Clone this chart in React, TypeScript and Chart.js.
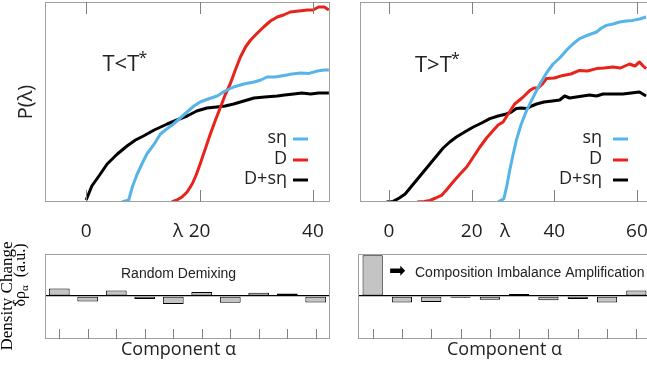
import React, { useEffect, useRef } from "react";
import { Chart, registerables } from "chart.js";

Chart.register(...registerables);

const FONT = "'Open Sans', sans-serif";
Chart.defaults.font.family = FONT;
Chart.defaults.color = "#222";

// ---------- Top-left panel: T < T* ----------
const lamLowBlack = [0, 1, 2.5, 3.7, 5.5, 7.2, 8.7, 10.1, 12, 14.3, 16, 17.8, 19.5, 21.3, 23, 24.5, 26, 27.8, 29.6, 31.5, 33.7, 35, 36.6, 38, 39.6, 41, 42.8];
const pLowBlack = [0.01, 0.08, 0.14, 0.19, 0.24, 0.28, 0.31, 0.33, 0.36, 0.39, 0.41, 0.43, 0.455, 0.47, 0.475, 0.48, 0.49, 0.505, 0.52, 0.525, 0.53, 0.535, 0.54, 0.545, 0.54, 0.545, 0.545];
const lamLowBlue = [6.3, 7.5, 8.2, 9, 10, 10.7, 12, 13.1, 14.2, 15.4, 16.6, 17.8, 19, 20.1, 21.5, 23.1, 24.5, 26, 27.8, 29.6, 30.8, 31.9, 33.3, 34.9, 36.3, 37.8, 39.3, 40.8, 42, 42.8];
const pLowBlue = [0, 0.01, 0.08, 0.14, 0.2, 0.24, 0.29, 0.34, 0.365, 0.39, 0.42, 0.45, 0.48, 0.5, 0.515, 0.53, 0.555, 0.575, 0.59, 0.6, 0.61, 0.625, 0.625, 0.633, 0.64, 0.645, 0.643, 0.655, 0.66, 0.66];
const lamLowRed = [15.1, 16, 16.9, 17.8, 18.7, 19.4, 20.1, 21, 21.9, 22.8, 23.7, 24.5, 25.4, 26.3, 27.2, 28.1, 29, 30.2, 31.3, 32.5, 33.7, 34.8, 36, 37.5, 39, 40, 41, 42, 42.8];
const pLowRed = [0, 0.01, 0.025, 0.05, 0.09, 0.135, 0.19, 0.265, 0.34, 0.41, 0.475, 0.535, 0.59, 0.66, 0.725, 0.775, 0.81, 0.845, 0.875, 0.905, 0.925, 0.935, 0.95, 0.955, 0.96, 0.96, 0.975, 0.975, 0.96];
const lamTicksLow = [0, 20, 40];

// ---------- Top-right panel: T > T* ----------
const lamHighBlack = [-0.6, 1, 2.5, 3.9, 5.3, 6.7, 8.3, 9.9, 11.5, 13.1, 14.7, 16.3, 18.3, 20.4, 22.4, 24.4, 26.4, 28.4, 29.6, 30.8, 32, 33.3, 34.5, 35.7, 37.5, 39.5, 41.3, 42.5, 43.7, 45.3, 46.9, 48.5, 50.2, 51.8, 54, 56.6, 58.6, 60.6, 62.2];
const pHighBlack = [0, 0.003, 0.02, 0.04, 0.075, 0.11, 0.15, 0.19, 0.23, 0.27, 0.3, 0.325, 0.35, 0.375, 0.395, 0.417, 0.43, 0.44, 0.45, 0.467, 0.47, 0.467, 0.48, 0.49, 0.5, 0.505, 0.51, 0.53, 0.52, 0.525, 0.53, 0.535, 0.53, 0.54, 0.54, 0.54, 0.545, 0.55, 0.53];
const lamHighRed = [6.8, 8.5, 9.9, 11.3, 12.7, 14.1, 15.5, 17.2, 18.8, 20.4, 22, 23.6, 25.2, 26.4, 27.6, 29, 30.4, 32.2, 34.1, 35.1, 36.1, 37.1, 38.1, 40, 42.1, 44, 46.1, 48, 50.2, 52, 54.2, 56, 58.2, 59.5, 60.6, 61.5, 62.2];
const pHighRed = [0, 0.003, 0.008, 0.02, 0.033, 0.065, 0.1, 0.14, 0.175, 0.225, 0.275, 0.32, 0.358, 0.385, 0.4, 0.445, 0.49, 0.52, 0.558, 0.57, 0.57, 0.59, 0.617, 0.62, 0.633, 0.64, 0.658, 0.655, 0.667, 0.67, 0.675, 0.67, 0.69, 0.68, 0.7, 0.68, 0.667];
const lamHighBlue = [26.4, 27.8, 28.5, 29.2, 30, 30.8, 32, 33.3, 34.9, 36.5, 38.1, 39.7, 41.3, 42.9, 44.5, 46.1, 48.2, 50.2, 51.4, 52.6, 54.2, 55.8, 57.4, 59, 60.6, 62.2];
const pHighBlue = [0, 0.017, 0.08, 0.158, 0.235, 0.308, 0.39, 0.458, 0.525, 0.59, 0.645, 0.69, 0.72, 0.758, 0.79, 0.817, 0.835, 0.85, 0.87, 0.883, 0.89, 0.9, 0.905, 0.908, 0.915, 0.925];
const lamTicksHigh = [0, 20, 40, 60];

const seriesLabels = ["sη", "D", "D+sη"];

// ---------- Bottom panels ----------
const components = ["1", "2", "3", "4", "5", "6", "7", "8", "9", "10"];
const demixing = [0.18, -0.13, 0.135, -0.07, -0.19, 0.095, -0.16, 0.08, 0.063, -0.15];
const amplification = [0.97, -0.15, -0.14, -0.04, -0.085, 0.05, -0.1, -0.07, -0.155, 0.135];

const BLUE = "#56b4e9";
const RED = "#e8231a";
const BLACK = "#000000";
const FRAME = "#a0a0a0";
const TICK = "#808080";

const pts = (xs: number[], ys: number[]) => xs.map((x, i) => ({ x, y: ys[i] }));

const framePlugin = {
  id: "frame",
  afterDraw(chart: any, _args: any, opts: any) {
    const { ctx, chartArea: a, scales } = chart;
    ctx.save();
    ctx.strokeStyle = FRAME;
    ctx.lineWidth = 1;
    ctx.strokeRect(a.left + 0.5, a.top + 0.5, a.right - a.left - 1, a.bottom - a.top - 1);
    ctx.strokeStyle = TICK;
    const x = scales.x;
    x.ticks.forEach((_t: any, i: number) => {
      const px = Math.round(x.getPixelForTick(i)) + 0.5;
      ctx.beginPath();
      ctx.moveTo(px, a.bottom);
      ctx.lineTo(px, a.bottom - opts.len);
      if (opts.top) {
        ctx.moveTo(px, a.top);
        ctx.lineTo(px, a.top + opts.len);
      }
      ctx.stroke();
    });
    ctx.restore();
  },
};

const legendPlugin = {
  id: "lineLegend",
  afterDraw(chart: any, _args: any, opts: any) {
    if (!opts || !opts.show) return;
    const { ctx, chartArea: a } = chart;
    ctx.save();
    ctx.font = `18px ${FONT}`;
    ctx.textAlign = "right";
    ctx.textBaseline = "middle";
    chart.data.datasets.forEach((ds: any, i: number) => {
      const y = opts.rows[i];
      ctx.fillStyle = "#222";
      ctx.fillText(ds.label, a.left + opts.textRight, y - 1);
      ctx.strokeStyle = ds.borderColor;
      ctx.lineWidth = 3;
      ctx.beginPath();
      ctx.moveTo(a.left + opts.lineFrom, y);
      ctx.lineTo(a.left + opts.lineTo, y);
      ctx.stroke();
    });
    ctx.restore();
  },
};

const notePlugin = {
  id: "notes",
  afterDraw(chart: any, _args: any, opts: any) {
    if (!opts || !opts.items) return;
    const { ctx, chartArea: a } = chart;
    ctx.save();
    ctx.textBaseline = "alphabetic";
    ctx.textAlign = "left";
    opts.items.forEach((it: any) => {
      ctx.font = it.font;
      ctx.fillStyle = it.color || "#222";
      ctx.fillText(it.text, a.left + it.dx, it.y);
    });
    ctx.restore();
  },
};

const densityLabelPlugin = {
  id: "densityLabel",
  afterDraw(chart: any, _args: any, opts: any) {
    if (!opts || !opts.show) return;
    const { ctx } = chart;
    ctx.save();
    ctx.fillStyle = "#000";
    ctx.textBaseline = "alphabetic";
    // line 1
    ctx.save();
    ctx.translate(opts.x1, opts.c1);
    ctx.rotate(-Math.PI / 2);
    ctx.font = `17px 'Liberation Serif', serif`;
    ctx.textAlign = "center";
    ctx.fillText("Density Change", 0, 0);
    ctx.restore();
    // line 2
    ctx.save();
    ctx.translate(opts.x2, opts.c2);
    ctx.rotate(-Math.PI / 2);
    ctx.textAlign = "left";
    const big = `16px 'Liberation Serif', serif`;
    const small = `11px 'Liberation Serif', serif`;
    ctx.font = big;
    const w1 = ctx.measureText("δρ").width;
    const w3 = ctx.measureText("  (a.u.)").width;
    ctx.font = small;
    const w2 = ctx.measureText("α").width;
    const total = w1 + w2 + w3;
    let xx = -total / 2;
    ctx.font = big;
    ctx.fillText("δρ", xx, 0);
    xx += w1;
    ctx.font = small;
    ctx.fillText("α", xx, 3);
    xx += w2;
    ctx.font = big;
    ctx.fillText("  (a.u.)", xx, 0);
    ctx.restore();
    ctx.restore();
  },
};

function lineConfig(opts: {
  sets: { label: string; xs: number[]; ys: number[]; color: string }[];
  min: number;
  max: number;
  ticks: number[];
  showY: boolean;
  yWidth: number;
  title: string;
  legend: any;
  notes: any[];
}) {
  return {
    type: "line",
    data: {
      datasets: opts.sets.map((s) => ({
        label: s.label,
        data: pts(s.xs, s.ys),
        borderColor: s.color,
        backgroundColor: s.color,
        borderWidth: 3,
        pointRadius: 0,
        tension: 0,
        fill: false,
        borderJoinStyle: "round",
      })),
    },
    options: {
      animation: false,
      responsive: false,
      maintainAspectRatio: false,
      layout: { padding: { top: 2, left: 0, right: 0, bottom: 0 } },
      plugins: {
        legend: { display: false },
        tooltip: { enabled: false },
        frame: { len: 12, top: true },
        lineLegend: opts.legend,
        notes: { items: opts.notes },
      },
      scales: {
        x: {
          type: "linear",
          min: opts.min,
          max: opts.max,
          grid: { display: false, drawTicks: false },
          border: { display: false },
          afterBuildTicks: (s: any) => {
            s.ticks = opts.ticks.map((v) => ({ value: v }));
          },
          ticks: { autoSkip: false, maxRotation: 0, font: { size: 19 }, color: "#222", padding: 18 },
          title: { display: true, text: opts.title, font: { size: 19 }, color: "#222", padding: { top: 0, bottom: 7 } },
          afterFit: (s: any) => {
            s.height = 48;
            s.paddingLeft = 0;
            s.paddingRight = 0;
          },
        },
        y: {
          min: 0,
          max: 1,
          grid: { display: false, drawTicks: false },
          border: { display: false },
          ticks: { display: false },
          title: { display: opts.showY, text: "P(λ)", font: { size: 20 }, color: "#222", padding: { top: 14, bottom: 0 } },
          afterFit: (s: any) => {
            s.width = opts.yWidth;
            s.paddingTop = 0;
            s.paddingBottom = 0;
          },
        },
      },
    },
    plugins: [framePlugin, legendPlugin, notePlugin],
  };
}

function barConfig(opts: {
  values: number[];
  yWidth: number;
  title: string;
  barPct: number;
  notes: any[];
  density: boolean;
}) {
  return {
    type: "bar",
    data: {
      labels: components,
      datasets: [
        {
          data: opts.values,
          backgroundColor: "#c4c4c4",
          borderColor: "#000",
          borderWidth: 1,
          borderSkipped: false,
          barPercentage: opts.barPct,
          categoryPercentage: 1,
        },
      ],
    },
    options: {
      animation: false,
      responsive: false,
      maintainAspectRatio: false,
      layout: { padding: { top: 14, left: 0, right: 0, bottom: 0 } },
      plugins: {
        legend: { display: false },
        tooltip: { enabled: false },
        frame: { len: 10, top: false },
        notes: { items: opts.notes },
        densityLabel: { show: opts.density, x1: 12, c1: 56, x2: 25, c2: 35 },
      },
      scales: {
        x: {
          grid: { display: false, drawTicks: false },
          border: { display: false },
          ticks: { display: false },
          title: { display: true, text: opts.title, font: { size: 18 }, color: "#222", padding: { top: 0, bottom: 9 } },
          afterFit: (s: any) => {
            s.height = 31;
            s.paddingLeft = 0;
            s.paddingRight = 0;
          },
        },
        y: {
          min: -1.02,
          max: 1,
          ticks: { display: false, stepSize: 1 },
          grid: {
            drawTicks: false,
            color: (c: any) => (c.tick && c.tick.value === 0 ? "#000" : "rgba(0,0,0,0)"),
            lineWidth: 1.3,
          },
          border: { display: false },
          afterFit: (s: any) => {
            s.width = opts.yWidth;
            s.paddingTop = 0;
            s.paddingBottom = 0;
          },
        },
      },
    },
    plugins: [framePlugin, notePlugin, densityLabelPlugin],
  };
}

export default function App() {
  const tl = useRef<HTMLCanvasElement>(null);
  const tr = useRef<HTMLCanvasElement>(null);
  const bl = useRef<HTMLCanvasElement>(null);
  const br = useRef<HTMLCanvasElement>(null);

  useEffect(() => {
    const charts: Chart[] = [];
    charts.push(
      new Chart(
        tl.current!,
        lineConfig({
          sets: [
            { label: seriesLabels[0], xs: lamLowBlue, ys: pLowBlue, color: BLUE },
            { label: seriesLabels[1], xs: lamLowRed, ys: pLowRed, color: RED },
            { label: seriesLabels[2], xs: lamLowBlack, ys: pLowBlack, color: BLACK },
          ],
          min: -7.26,
          max: 43.0,
          ticks: lamTicksLow,
          showY: true,
          yWidth: 45,
          title: "λ\u2003",
          legend: { show: true, rows: [139, 160, 180], textRight: 242, lineFrom: 248, lineTo: 263 },
          notes: [
            { text: "T<T", dx: 57.5, y: 71, font: `22px ${FONT}` },
            { text: "*", dx: 93.5, y: 63, font: `16px ${FONT}` },
          ],
        }) as any
      )
    );
    charts.push(
      new Chart(
        tr.current!,
        lineConfig({
          sets: [
            { label: seriesLabels[0], xs: lamHighBlue, ys: pHighBlue, color: BLUE },
            { label: seriesLabels[1], xs: lamHighRed, ys: pHighRed, color: RED },
            { label: seriesLabels[2], xs: lamHighBlack, ys: pHighBlack, color: BLACK },
          ],
          min: -7.02,
          max: 63.15,
          ticks: lamTicksHigh,
          showY: false,
          yWidth: 30,
          title: "λ",
          legend: { show: true, rows: [139, 160, 180], textRight: 242, lineFrom: 253, lineTo: 268 },
          notes: [
            { text: "T>T", dx: 55, y: 71.5, font: `22px ${FONT}` },
            { text: "*", dx: 91, y: 63.5, font: `16px ${FONT}` },
          ],
        }) as any
      )
    );
    charts.push(
      new Chart(
        bl.current!,
        barConfig({
          values: demixing,
          yWidth: 45,
          title: "Component α\u2003",
          barPct: 0.73,
          density: true,
          notes: [{ text: "Random Demixing", dx: 76, y: 38, font: `14px 'Liberation Sans', Arial, sans-serif` }],
        }) as any
      )
    );
    charts.push(
      new Chart(
        br.current!,
        barConfig({
          values: amplification,
          yWidth: 28,
          title: "Component α",
          barPct: 0.69,
          density: false,
          notes: [
            { text: "➡", dx: 31, y: 37, font: `20px 'DejaVu Sans', sans-serif`, color: "#000" },
            { text: "Composition Imbalance Amplification", dx: 57, y: 37, font: `14px 'Liberation Sans', Arial, sans-serif` },
          ],
        }) as any
      )
    );
    return () => charts.forEach((c) => c.destroy());
  }, []);

  const abs = (left: number, top: number, w: number, h: number): React.CSSProperties => ({
    position: "absolute",
    left,
    top,
    width: w,
    height: h,
  });

  return (
    <div style={{ position: "fixed", left: 0, top: 0, width: 647, height: 370, overflow: "hidden", background: "#fff" }}>
      <canvas ref={tl} width={330} height={250} style={abs(0, 0, 330, 250)} />
      <canvas ref={tr} width={320} height={250} style={abs(330, 0, 320, 250)} />
      <canvas ref={bl} width={330} height={130} style={abs(0, 240, 330, 130)} />
      <canvas ref={br} width={321} height={130} style={abs(330, 240, 321, 130)} />
    </div>
  );
}
